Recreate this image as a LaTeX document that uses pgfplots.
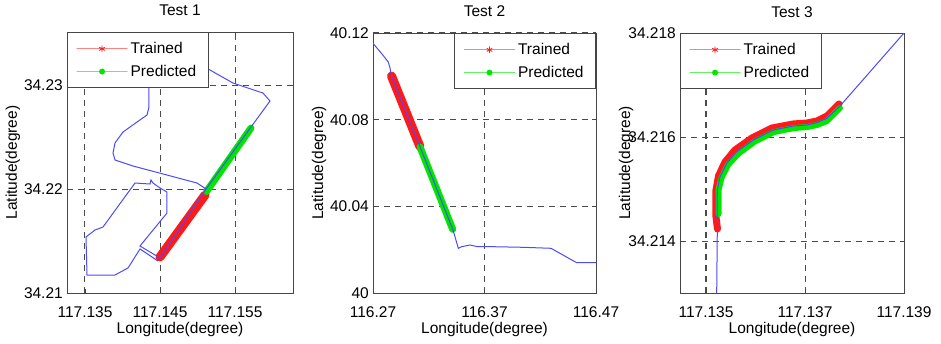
\documentclass[border=0pt]{standalone}
\usepackage{fontspec}
\setmainfont{Liberation Sans}
\usepackage{pgfplots}
\pgfplotsset{compat=1.18}
\definecolor{trk}{RGB}{75,75,250}
\definecolor{trn}{RGB}{255,25,25}
\definecolor{prd}{RGB}{0,230,0}
\definecolor{grd}{RGB}{75,75,75}
\definecolor{axc}{RGB}{70,70,70}
\pgfplotsset{
  mystyle/.style={
    scale only axis,
    axis line style={axc, line width=0.9pt},
    grid=major,
    major grid style={grd, line width=1pt, dash pattern=on 6pt off 5pt},
    tick align=inside,
    major tick length=4pt,
    tick style={axc, line width=0.8pt},
    font=\fontsize{15.5}{18}\selectfont,
    title style={at={([yshift=10pt]axis description cs:0.5,1)}, anchor=base},
    xlabel style={at={([yshift=-40.5pt]axis description cs:0.5,0)}, anchor=base},
    ylabel style={at={([xshift=-50pt]axis description cs:0,0.5)}, anchor=base},
    xticklabel style={anchor=base, yshift=-24pt},
    yticklabel style={anchor=east, inner sep=0pt, xshift=-4pt},
    xlabel={Longitude(degree)},
    ylabel={Latitude(degree)},
    legend style={draw=axc, line width=0.9pt, fill=white,
      font=\fontsize{15.5}{18}\selectfont,
      inner xsep=9pt, inner ysep=7pt, row sep=4pt,
      nodes={inner sep=3pt}},
    legend cell align=left,
  },
  trainstyle/.style={trn, line width=9pt, line cap=round,
    legend image code/.code={
      \draw[trn!55!white, line width=1.2pt] (0pt,0pt) -- (50pt,0pt);
      \draw[trn, line width=0.8pt, mark=asterisk, mark size=3pt] plot coordinates {(25pt,0pt)};
    }},
  predstyle/.style={prd, line width=7pt, line cap=round,
    legend image code/.code={
      \draw[prd!60!white, line width=1.2pt] (0pt,0pt) -- (50pt,0pt);
      \path[fill=prd, draw=none] (25pt,0pt) circle (3pt);
    }},
  trackstyle/.style={trk, line width=1pt, forget plot},
}
\begin{document}
\begin{tikzpicture}
\useasboundingbox (0,0) rectangle (941pt,343pt);
% ---------------- Test 1 ----------------
\begin{axis}[mystyle, at={(67pt,50pt)}, anchor=south west,
  width=226pt, height=261pt,
  xmin=2.6, xmax=32.733, ymin=0, ymax=25.1,
  xtick={5,15,25}, xticklabels={117.135,117.145,117.155},
  ytick={0,10,20}, yticklabels={34.21,34.22,34.23},
  title={Test 1},
  legend style={at={(0,1)}, anchor=north west}]
\addplot[trainstyle] table {
x y
15.0 3.462
21.0 9.423
};
\addlegendentry{Trained}
\addplot[predstyle] table {
x y
21.2 9.76
27.133 15.865
};
\addlegendentry{Predicted}
\addplot[trackstyle] table {
x y
14.733 3.077
12.333 4.231
10.733 2.404
9.0 1.731
5.267 1.731
5.133 5.385
6.333 6.058
7.4 6.346
11.667 10.577
13.667 10.481
13.8 10.865
14.067 10.577
15.0 10.096
15.933 9.712
15.933 7.692
12.333 4.519
15.0 3.365
21.133 10.0
27.133 15.962
29.667 18.462
28.733 19.231
24.733 20.192
21.667 21.442
19.667 22.212
13.533 21.25
13.533 19.808
13.533 17.885
13.267 17.115
11.933 16.442
10.067 15.481
9.0 14.423
8.733 13.462
9.0 12.788
11.4 12.212
15.933 11.346
19.933 10.577
21.133 10.0
};
\end{axis}
% ---------------- Test 2 ----------------
\begin{axis}[mystyle, at={(373pt,50pt)}, anchor=south west,
  width=223pt, height=260pt,
  xmin=0, xmax=20, ymin=0, ymax=12,
  xtick={0,10,20}, xticklabels={116.27,116.37,116.47},
  ytick={0,4,8,12}, yticklabels={40,40.04,40.08,40.12},
  title={Test 2},
  legend style={at={(1,1)}, anchor=north east}]
\addplot[trainstyle] table {
x y
1.659 10.015
4.215 6.752
};
\addlegendentry{Trained}
\addplot[predstyle] table {
x y
4.215 6.738
7.148 2.94
};
\addlegendentry{Predicted}
\addplot[trackstyle] table {
x y
0.0 11.524
0.807 11.031
1.372 10.661
1.525 10.384
1.659 10.015
4.215 6.752
7.148 2.94
7.354 2.598
7.650 2.063
7.955 2.137
8.700 2.215
9.300 2.146
10.762 2.137
13.480 2.109
15.964 2.063
18.269 1.398
20.0 1.398
};
\end{axis}
% ---------------- Test 3 ----------------
\begin{axis}[mystyle, at={(680pt,50pt)}, anchor=south west,
  width=224pt, height=260pt,
  xmin=0.475, xmax=5, ymin=3, ymax=8,
  xtick={1,3,5}, xticklabels={117.135,117.137,117.139},
  ytick={4,6,8}, yticklabels={34.214,34.216,34.218},
  title={Test 3},
  legend style={at={(0,1)}, anchor=north west}]
\addplot[trainstyle, line width=7pt] table {
x y
1.232 4.231
1.202 4.462
1.202 4.981
1.253 5.25
1.384 5.519
1.586 5.75
1.929 5.981
2.333 6.173
2.758 6.25
3.040 6.269
3.242 6.308
3.444 6.404
3.687 6.635
};
\addlegendentry{Trained}
\addplot[predstyle, line width=6pt] table {
x y
1.253 4.519
1.253 4.981
1.313 5.212
1.444 5.462
1.646 5.673
1.970 5.904
2.374 6.096
2.778 6.173
3.040 6.192
3.242 6.231
3.444 6.308
3.707 6.558
};
\addlegendentry{Predicted}
\addplot[trackstyle] table {
x y
1.216 3.0
1.228 4.154
1.236 4.288
1.222 4.467
1.228 4.981
1.283 5.237
1.418 5.494
1.620 5.717
1.956 5.942
2.360 6.135
2.764 6.212
3.034 6.231
3.236 6.275
3.438 6.360
3.707 6.596
5.0 8.0
};
\end{axis}
\end{tikzpicture}
\end{document}
